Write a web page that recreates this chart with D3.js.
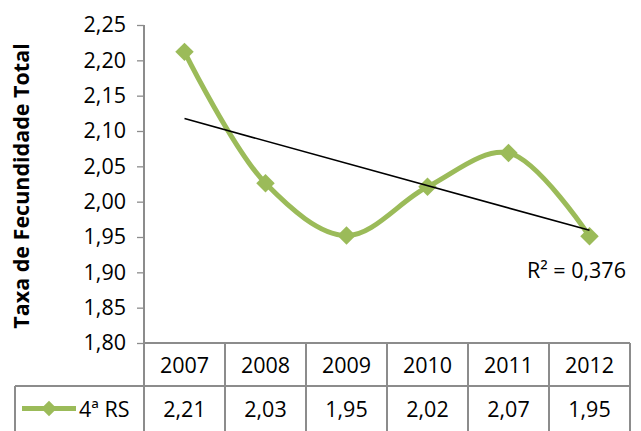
<!DOCTYPE html>
<html>
<head>
<meta charset="utf-8">
<script src="https://cdnjs.cloudflare.com/ajax/libs/d3/7.8.5/d3.min.js"></script>
<style>
	body{ margin:0; background:#fff; }
	svg{ display:block; font-family:'Open Sans',sans-serif; }
	.grid{ stroke:#8c8c8c; stroke-width:1.3; fill:none; shape-rendering:crispEdges; }
</style>
</head>
<body>
<svg id="vis" width="641" height="431"></svg>
<script>
var years = ['2007','2008','2009','2010','2011','2012'];
var values = [2.212, 2.026, 1.952, 2.021, 2.069, 1.951];
var yTicks = [1.80, 1.85, 1.90, 1.95, 2.00, 2.05, 2.10, 2.15, 2.20, 2.25];
var seriesName = '4ª RS';
var axisTitle = 'Taxa de Fecundidade Total';
var r2Label = 'R² = 0,376';

window.onload = function(){

	return {
		w:641,
		h:431,

		left:144,
		right:630,
		top:25,
		bottom:343,
		row_h:43,
		legend_left:15,

		font_size:'21.5px',
		green:'#9bbb59',

		generate:function(){
			var self = this;
			var svg = d3.select('#vis');
			var comma = function(v,n){ return v.toFixed(n).replace('.',','); };

			var x = d3.scaleBand()
				.domain(years)
				.range([self.left,self.right]);
			var y = d3.scaleLinear()
				.domain([1.80,2.25])
				.range([self.bottom,self.top]);

			// y axis
			var yAxis = d3.axisLeft(y)
				.tickValues(yTicks)
				.tickSize(7)
				.tickPadding(11)
				.tickFormat(function(d){ return comma(d,2); });
			var ya = svg.append('g')
				.attr('transform','translate(' +self.left +',0)')
				.call(yAxis);
			ya.select('.domain').remove();
			ya.selectAll('line').attr('stroke','#8c8c8c').attr('stroke-width',1.3);
			ya.selectAll('text')
				.attr('fill','#000')
				.style('font-size',self.font_size)
				.style('font-family','Open Sans');
			svg.append('line').classed('grid',true)
				.attr('x1',self.left).attr('x2',self.left)
				.attr('y1',self.top).attr('y2',self.h);

			svg.append('text')
				.attr('transform','translate(29,' +((self.top+self.bottom)/2 +2) +') rotate(-90)')
				.attr('text-anchor','middle')
				.style('font-size','21.5px')
				.style('font-weight','bold')
				.text(axisTitle);

			// data table
			var r1 = self.bottom, r2 = self.bottom +self.row_h, r3 = self.h;
			svg.append('line').classed('grid',true)
				.attr('x1',self.left).attr('x2',self.right).attr('y1',r1).attr('y2',r1);
			svg.append('line').classed('grid',true)
				.attr('x1',self.legend_left).attr('x2',self.right).attr('y1',r2).attr('y2',r2);
			svg.append('line').classed('grid',true)
				.attr('x1',self.legend_left).attr('x2',self.legend_left).attr('y1',r2).attr('y2',r3);
			svg.selectAll('line.col')
				.data(years)
				.enter().append('line')
				.classed('grid',true)
				.attr('x1',function(d){ return x(d) +x.bandwidth(); })
				.attr('x2',function(d){ return x(d) +x.bandwidth(); })
				.attr('y1',r1).attr('y2',r3);

			svg.selectAll('text.year')
				.data(years)
				.enter().append('text')
				.attr('x',function(d){ return x(d) +x.bandwidth()/2; })
				.attr('y',(r1+r2)/2 +8)
				.attr('text-anchor','middle')
				.style('font-size',self.font_size)
				.text(function(d){ return d; });
			svg.selectAll('text.val')
				.data(values)
				.enter().append('text')
				.attr('x',function(d,i){ return x(years[i]) +x.bandwidth()/2; })
				.attr('y',(r2+self.h)/2 +8)
				.attr('text-anchor','middle')
				.style('font-size',self.font_size)
				.text(function(d){ return comma(d,2); });

			// legend key
			var ly = (r2+self.h)/2;
			svg.append('line')
				.attr('x1',22).attr('x2',76).attr('y1',ly).attr('y2',ly)
				.attr('stroke',self.green).attr('stroke-width',5);
			svg.append('path')
				.attr('d',d3.symbol(d3.symbolSquare,120)())
				.attr('transform','translate(49,' +ly +') rotate(45)')
				.attr('fill',self.green);
			svg.append('text')
				.attr('x',79).attr('y',ly +8)
				.style('font-size',self.font_size)
				.text(seriesName);

			// series
			var cx = function(d,i){ return x(years[i]) +x.bandwidth()/2; };
			var line = d3.line()
				.x(cx)
				.y(function(d){ return y(d); })
				.curve(d3.curveCatmullRom.alpha(0.5));
			svg.append('path')
				.datum(values)
				.attr('d',line)
				.attr('fill','none')
				.attr('stroke',self.green)
				.attr('stroke-width',5);
			svg.selectAll('path.pt')
				.data(values)
				.enter().append('path')
				.attr('d',d3.symbol(d3.symbolSquare,170)())
				.attr('transform',function(d,i){ return 'translate(' +cx(d,i) +',' +y(d) +') rotate(45)'; })
				.attr('fill',self.green);

			// linear trend
			var xs = values.map(function(d,i){ return i +1; });
			var mx = d3.mean(xs), my = d3.mean(values);
			var sxy = d3.sum(values,function(d,i){ return (xs[i]-mx)*(d-my); });
			var sxx = d3.sum(xs,function(d){ return (d-mx)*(d-mx); });
			var slope = sxy/sxx, icpt = my -slope*mx;
			svg.append('line')
				.attr('x1',cx(0,0)).attr('y1',y(icpt +slope*1))
				.attr('x2',cx(0,5)).attr('y2',y(icpt +slope*6))
				.attr('stroke','#000').attr('stroke-width',1.6);
			svg.append('text')
				.attr('x',527).attr('y',278)
				.style('font-size',self.font_size)
				.text(r2Label);
		}
	}
}().generate();
</script>
</body>
</html>
